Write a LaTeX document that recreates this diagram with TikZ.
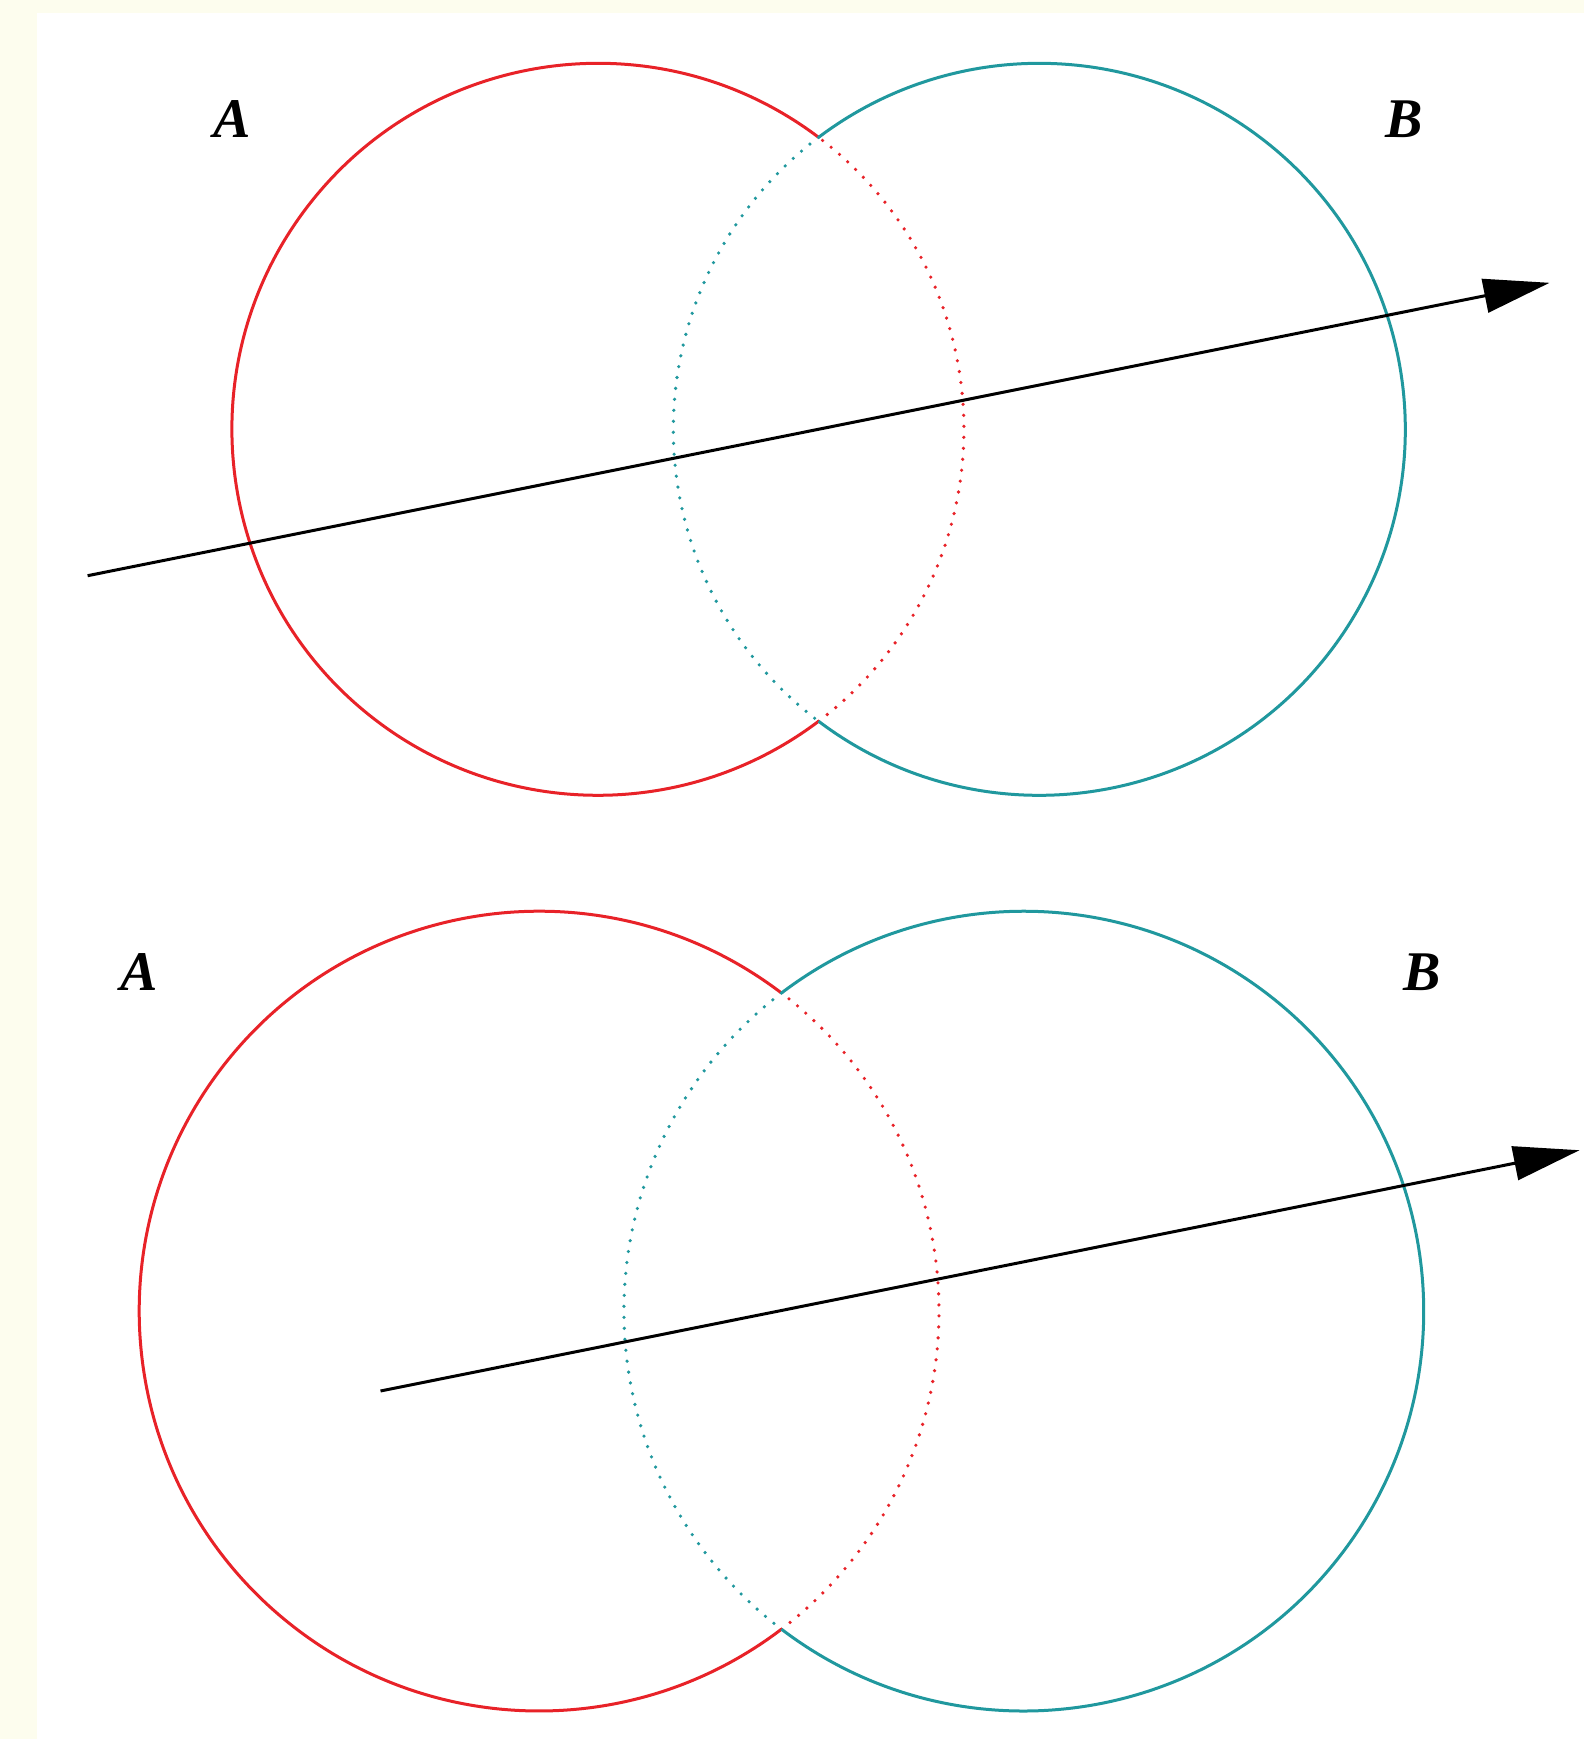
\documentclass[tikz,border=0pt]{standalone}
\usepackage{fontspec}
\setmainfont{Liberation Serif}
\usetikzlibrary{arrows.meta}
\definecolor{cream}{RGB}{253,253,238}
\definecolor{cred}{RGB}{232,34,40}
\definecolor{cteal}{RGB}{32,152,158}
\tikzset{
  solidarc/.style={line width=3pt},
  dotarc/.style={line width=3.6pt, line cap=round, dash pattern=on 0pt off 11pt},
  ray/.style={line width=3pt, -{Triangle[length=66pt,width=34pt]}},
  lbl/.style={font=\fontsize{56}{60}\selectfont\bfseries\itshape, inner sep=0pt}
}
\begin{document}
\begin{tikzpicture}[x=1pt,y=1pt]
\fill[cream] (0,0) rectangle (1584,-1739);
\fill[white] (37,-13) rectangle (1584,-1739);
\useasboundingbox (0,0) rectangle (1584,-1739);
% ---------- top diagram ----------
\pgfmathsetmacro{\ra}{366}
\pgfmathsetmacro{\aa}{acos(220.7/366)}
\coordinate (ca) at (597.9,-429.3);
\coordinate (cb) at (1039.3,-429.3);
\draw[cred,solidarc] ([shift={(\aa:\ra)}]ca) arc[start angle=\aa, end angle=360-\aa, radius=\ra];
\draw[cred,dotarc] ([shift={(-\aa:\ra)}]ca) arc[start angle=-\aa, end angle=\aa, radius=\ra];
\draw[cteal,solidarc] ([shift={(-180+\aa:\ra)}]cb) arc[start angle=-180+\aa, end angle=180-\aa, radius=\ra];
\draw[cteal,dotarc] ([shift={(180-\aa:\ra)}]cb) arc[start angle=180-\aa, end angle=180+\aa, radius=\ra];
\coordinate (s1) at (87.6,-575.7);
\coordinate (e1) at (1549.6,-282.8);
\draw[ray] (s1) -- (e1);
\node[lbl] (la1) at (232,-119) {A};
\node[lbl] (lb1) at (1404,-119) {B};
% ---------- bottom diagram ----------
\pgfmathsetmacro{\rb}{399.9}
\pgfmathsetmacro{\ab}{acos(242.35/399.9)}
\coordinate (ca2) at (539.1,-1311.1);
\coordinate (cb2) at (1023.8,-1311.1);
\draw[cred,solidarc] ([shift={(\ab:\rb)}]ca2) arc[start angle=\ab, end angle=360-\ab, radius=\rb];
\draw[cred,dotarc] ([shift={(-\ab:\rb)}]ca2) arc[start angle=-\ab, end angle=\ab, radius=\rb];
\draw[cteal,solidarc] ([shift={(-180+\ab:\rb)}]cb2) arc[start angle=-180+\ab, end angle=180-\ab, radius=\rb];
\draw[cteal,dotarc] ([shift={(180-\ab:\rb)}]cb2) arc[start angle=180-\ab, end angle=180+\ab, radius=\rb];
\coordinate (s2) at (380.5,-1391);
\coordinate (e2) at (1579.5,-1150.2);
\draw[ray] (s2) -- (e2);
\node[lbl] (la2) at (139,-972) {A};
\node[lbl] (lb2) at (1422,-972) {B};
\end{tikzpicture}
\end{document}
